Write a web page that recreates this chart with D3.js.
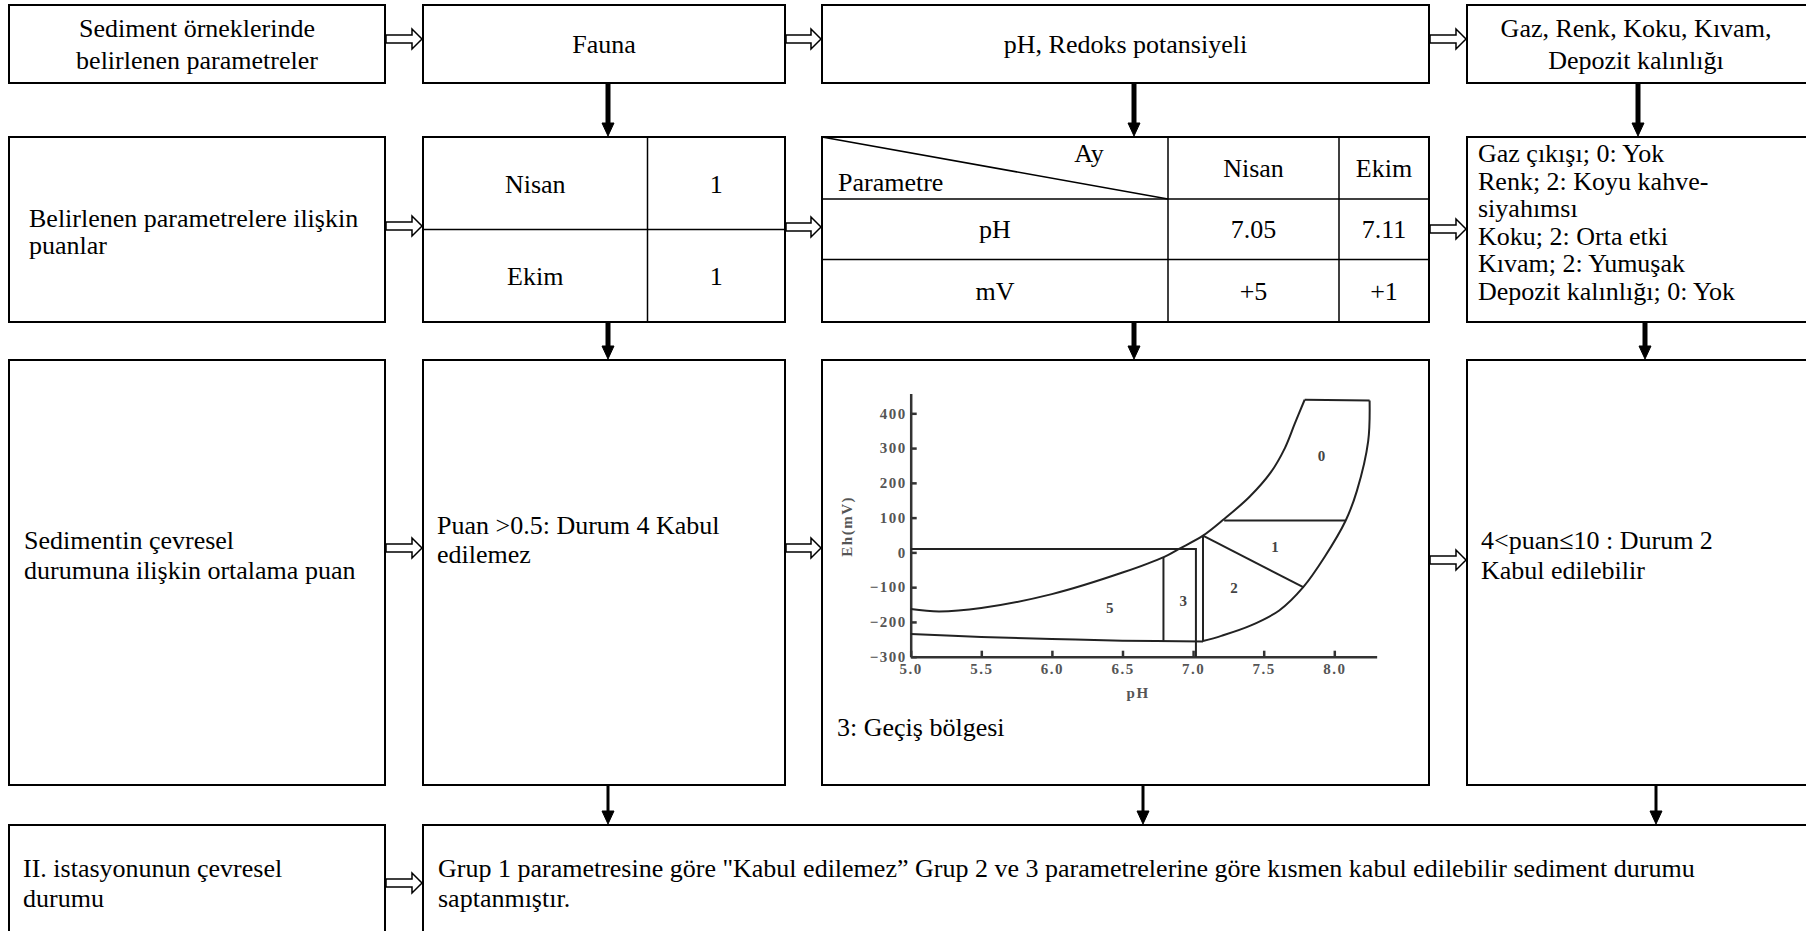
<!DOCTYPE html>
<meta charset="utf-8">
<style>
  body { margin: 0; background: #fff; }
  svg { display: block; }
  .box { fill: #fff; stroke: #000; stroke-width: 2px; }
  .grid { stroke: #000; stroke-width: 1.5px; fill: none; }
  .txt { font-family: "Liberation Serif", "Times New Roman", Times, serif; font-size: 26px; fill: #000; }
  .hollow { fill: #fff; stroke: #000; stroke-width: 1.5px; }
  .down { fill: #000; stroke: #000; }
  .axis path, .axis line { stroke: #333; stroke-width: 2.5px; }
  .axis text, .axisName { font-family: "Liberation Serif", serif; font-weight: bold; font-size: 15px; fill: #555; letter-spacing: 1.5px; }
  .zone { fill: none; stroke: #222; stroke-width: 2px; }
  .zoneLabel { font-family: "Liberation Serif", serif; font-weight: bold; font-size: 15px; fill: #444; }
</style>
<body>
<svg id="chart" width="1806" height="931"></svg>
<script src="https://cdnjs.cloudflare.com/ajax/libs/d3/7.8.5/d3.min.js"></script>
<script>
// --- flowchart texts ---
const rowTitles = [
  ["Sediment örneklerinde", "belirlenen parametreler"],
  ["Belirlenen parametrelere ilişkin", "puanlar"],
  ["Sedimentin çevresel", "durumuna ilişkin ortalama puan"],
  ["II. istasyonunun çevresel", "durumu"]
];
const groupTitles = [["Fauna"], ["pH, Redoks potansiyeli"], ["Gaz, Renk, Koku, Kıvam,", "Depozit kalınlığı"]];
const months = ["Nisan", "Ekim"];
const faunaScores = ["1", "1"];
const phHead = ["Ay", "Parametre"];
const phRows = [["pH", "7.05", "7.11"], ["mV", "+5", "+1"]];
const sensoryScores = ["Gaz çıkışı; 0: Yok", "Renk; 2: Koyu kahve-", "siyahımsı",
  "Koku; 2: Orta etki", "Kıvam; 2: Yumuşak", "Depozit kalınlığı; 0: Yok"];
const groupResults = [["Puan >0.5: Durum 4 Kabul", "edilemez"], ["3: Geçiş bölgesi"], ["4<puan≤10 : Durum 2", "Kabul edilebilir"]];
const conclusion = ["Grup 1 parametresine göre \"Kabul edilemez” Grup 2 ve 3 parametrelerine göre kısmen kabul edilebilir sediment durumu",
  "saptanmıştır."];

// --- Eh-pH diagram (pH, Eh mV) ---
const phTicks = [5.0, 5.5, 6.0, 6.5, 7.0, 7.5, 8.0];
const ehTicks = [400, 300, 200, 100, 0, -100, -200, -300];
const upperCurve = [[5.0, -163], [5.2, -170], [5.5, -160], [6.0, -120], [6.5, -58], [6.8, -12], [6.9, 10],
  [7.07, 48], [7.22, 96], [7.4, 160], [7.55, 230], [7.65, 300], [7.72, 370], [7.79, 439]];
const rightCurve = [[8.25, 437], [8.24, 320], [8.16, 177], [8.08, 91], [7.93, -14], [7.78, -100],
  [7.61, -167], [7.41, -210], [7.2, -240], [7.07, -255]];
const bottomCurve = [[5.0, -235], [5.5, -243], [6.0, -249], [6.5, -254], [7.07, -256]];
const zoneLines = [
  [[7.79, 439], [8.25, 437]],
  [[5.0, 10], [7.02, 10], [7.02, -300]],
  [[6.79, -14], [6.79, -256]],
  [[7.07, 48], [7.07, -256]],
  [[7.07, 48], [7.78, -100]],
  [[7.22, 92], [8.08, 92]]
];
const zoneLabels = [["0", 7.91, 277], ["1", 7.58, 17], ["2", 7.29, -101], ["3", 6.93, -139], ["5", 6.41, -160]];

// --- layout ---
const colX = [[9, 385], [423, 785], [822, 1429], [1467, 1815]];
const rowY = [[5, 83], [137, 322], [360, 785], [825, 945]];

const svg = d3.select("#chart");
svg.append("rect").attr("width", 1806).attr("height", 931).attr("fill", "#fff");

// boxes
for (let r = 0; r < 3; r++) {
  colX.forEach(c => {
    svg.append("rect").attr("class", "box")
      .attr("x", c[0]).attr("y", rowY[r][0])
      .attr("width", c[1] - c[0]).attr("height", rowY[r][1] - rowY[r][0]);
  });
}
svg.append("rect").attr("class", "box").attr("x", colX[0][0]).attr("y", rowY[3][0])
  .attr("width", colX[0][1] - colX[0][0]).attr("height", rowY[3][1] - rowY[3][0]);
svg.append("rect").attr("class", "box").attr("x", colX[1][0]).attr("y", rowY[3][0])
  .attr("width", 1815 - colX[1][0]).attr("height", rowY[3][1] - rowY[3][0]);

function lines(arr, x, y0, dy, anchor) {
  arr.forEach((t, i) => svg.append("text").attr("class", "txt")
    .attr("x", x).attr("y", y0 + i * dy)
    .attr("text-anchor", anchor || "start").text(t));
}
const mid = c => (c[0] + Math.min(c[1], 1805)) / 2;

// row 1
lines(rowTitles[0], mid(colX[0]), 37, 32, "middle");
lines(groupTitles[0], mid(colX[1]), 53, 32, "middle");
lines(groupTitles[1], mid(colX[2]), 53, 32, "middle");
lines(groupTitles[2], mid(colX[3]), 37, 32, "middle");

// row 2
lines(rowTitles[1], 29, 227, 27);
const fSplit = 647.5, fRow = 229.5;
svg.append("line").attr("class", "grid").attr("x1", fSplit).attr("x2", fSplit).attr("y1", rowY[1][0]).attr("y2", rowY[1][1]);
svg.append("line").attr("class", "grid").attr("x1", colX[1][0]).attr("x2", colX[1][1]).attr("y1", fRow).attr("y2", fRow);
months.forEach((m, i) => {
  lines([m], (colX[1][0] + fSplit) / 2, 193 + i * 92, 0, "middle");
  lines([faunaScores[i]], (fSplit + colX[1][1]) / 2, 193 + i * 92, 0, "middle");
});
const pCols = [colX[2][0], 1168, 1339, colX[2][1]];
const pRows = [rowY[1][0], 199, 259.5, rowY[1][1]];
[1, 2].forEach(i => svg.append("line").attr("class", "grid")
  .attr("x1", pCols[i]).attr("x2", pCols[i]).attr("y1", pRows[0]).attr("y2", pRows[3]));
[1, 2].forEach(i => svg.append("line").attr("class", "grid")
  .attr("x1", pCols[0]).attr("x2", pCols[3]).attr("y1", pRows[i]).attr("y2", pRows[i]));
svg.append("line").attr("class", "grid").attr("x1", pCols[0]).attr("y1", pRows[0]).attr("x2", pCols[1]).attr("y2", pRows[1]);
lines([phHead[0]], 1089, 162, 0, "middle");
lines([phHead[1]], 838, 191, 0, "start");
months.forEach((m, i) => lines([m], (pCols[i + 1] + pCols[i + 2]) / 2, 177, 0, "middle"));
phRows.forEach((row, j) => row.forEach((v, i) =>
  lines([v], (pCols[i] + pCols[i + 1]) / 2, (pRows[j + 1] + pRows[j + 2]) / 2 + 9, 0, "middle")));
lines(sensoryScores, 1478, 162, 27.6);

// row 3
lines(rowTitles[2], 24, 549, 30);
lines(groupResults[0], 437, 534, 29);
lines(groupResults[1], 837, 736, 28);
lines(groupResults[2], 1481, 549, 30);

// row 4
lines(rowTitles[3], 23, 877, 30);
lines(conclusion, 438, 877, 30);

// hollow arrows between columns
const rightArrows = [[0, 39], [0, 226], [0, 548], [0, 883], [1, 39], [1, 227], [1, 548], [2, 39], [2, 229], [2, 560]];
rightArrows.forEach(([c, yy]) => {
  const x0 = colX[c][1] + 1, x1 = colX[c + 1][0] - 1, hl = 10, hh = 10, sh = 4;
  svg.append("path").attr("class", "hollow")
    .attr("d", `M${x0},${yy - sh}H${x1 - hl}V${yy - hh}L${x1},${yy}L${x1 - hl},${yy + hh}V${yy + sh}H${x0}Z`);
});

// solid down arrows between rows
const downArrows = [[608, 0, 5], [1134, 0, 5], [1638, 0, 5], [608, 1, 5], [1134, 1, 5], [1645, 1, 5],
  [608, 2, 3], [1143, 2, 3], [1656, 2, 3]];
downArrows.forEach(([xx, r, w]) => {
  const y0 = rowY[r][1], y1 = rowY[r + 1][0] - 1;
  svg.append("line").attr("x1", xx).attr("x2", xx).attr("y1", y0).attr("y2", y1 - 10)
    .attr("stroke", "#000").attr("stroke-width", w);
  svg.append("path").attr("class", "down")
    .attr("d", `M${xx - 6},${y1 - 13}L${xx + 6},${y1 - 13}L${xx},${y1}Z`);
});

// Eh-pH diagram
const x = d3.scaleLinear().domain([5, 8.3]).range([910.7, 910.7 + 3.3 * 141.2]);
const y = d3.scaleLinear().domain([-300, 457]).range([656.7, 656.7 - 757 * 0.3477]);

svg.append("g").attr("class", "axis")
  .attr("transform", `translate(0,${y(-300)})`)
  .call(d3.axisBottom(x).tickValues(phTicks).tickFormat(d3.format(".1f"))
    .tickSize(-6).tickSizeOuter(0).tickPadding(7));
svg.append("g").attr("class", "axis")
  .attr("transform", `translate(${x(5)},0)`)
  .call(d3.axisLeft(y).tickValues(ehTicks).tickFormat(d => d < 0 ? "\u2212" + Math.abs(d) : d)
    .tickSize(-6).tickSizeOuter(0).tickPadding(4));

svg.append("text").attr("class", "axisName").attr("text-anchor", "middle")
  .attr("transform", `translate(852,${y(75)}) rotate(-90)`).text("Eh(mV)");
svg.append("text").attr("class", "axisName").attr("text-anchor", "middle")
  .attr("x", x(7.0) - 55).attr("y", 698).text("pH");

const curve = d3.line().x(d => x(d[0])).y(d => y(d[1])).curve(d3.curveCatmullRom);
const straight = d3.line().x(d => x(d[0])).y(d => y(d[1]));
[upperCurve, rightCurve, bottomCurve].forEach(c => svg.append("path").attr("class", "zone").attr("d", curve(c)));
zoneLines.forEach(l => svg.append("path").attr("class", "zone").attr("d", straight(l)));
zoneLabels.forEach(([t, p, e]) => svg.append("text").attr("class", "zoneLabel")
  .attr("x", x(p)).attr("y", y(e)).attr("dy", "0.35em").attr("text-anchor", "middle").text(t));
</script>
</body>
